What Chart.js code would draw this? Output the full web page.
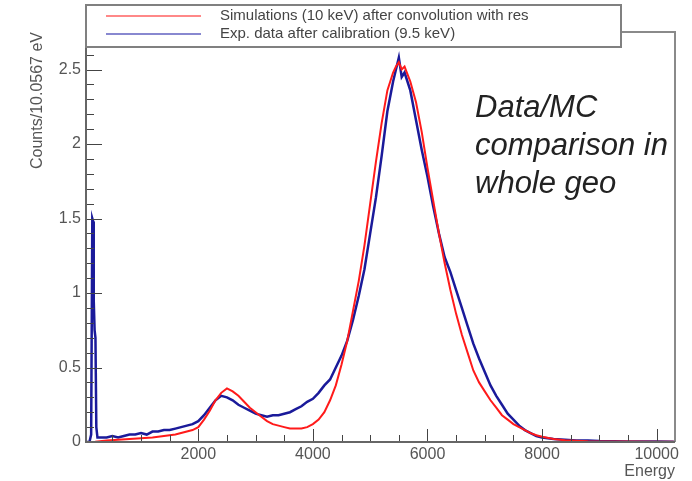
<!DOCTYPE html>
<html>
<head>
<meta charset="utf-8">
<script src="https://cdn.jsdelivr.net/npm/chart.js@4.4.1/dist/chart.umd.min.js"></script>
<style>
  html, body { margin: 0; padding: 0; background: #fff; }
  #wrap { position: relative; width: 692px; height: 481px; }
</style>
</head>
<body>
<div id="wrap"><canvas id="chart" width="692" height="481"></canvas></div>
<script>
// values (energy in eV, counts per bin)
const simEnergy = [0, 200, 400, 600, 800, 1000, 1200, 1400, 1600, 1800, 1900, 2000, 2100, 2200, 2300, 2400, 2500,
  2600, 2700, 2800, 2900, 3000, 3100, 3200, 3300, 3400, 3500, 3600, 3700, 3800, 3900, 4000, 4100, 4200, 4300,
  4400, 4500, 4600, 4700, 4800, 4900, 5000, 5100, 5200, 5300, 5400, 5450, 5500, 5550, 5600, 5700, 5800, 5900,
  6000, 6100, 6200, 6300, 6400, 6500, 6600, 6700, 6800, 6900, 7000, 7100, 7200, 7300, 7400, 7500, 7600, 7700,
  7800, 7900, 8000, 8200, 8400, 8600, 8800, 9000, 9500, 10000, 10300];
const simCounts = [0, 0.002, 0.01, 0.015, 0.02, 0.025, 0.03, 0.04, 0.05, 0.07, 0.08, 0.1, 0.15, 0.21, 0.28, 0.33, 0.36,
  0.34, 0.31, 0.27, 0.23, 0.2, 0.17, 0.14, 0.12, 0.11, 0.1, 0.09, 0.09, 0.09, 0.1, 0.12, 0.15, 0.2, 0.28,
  0.38, 0.52, 0.68, 0.88, 1.08, 1.32, 1.6, 1.88, 2.14, 2.36, 2.48, 2.52, 2.55, 2.5, 2.52, 2.42, 2.28, 2.08,
  1.84, 1.62, 1.4, 1.2, 1.02, 0.86, 0.72, 0.6, 0.48, 0.4, 0.34, 0.28, 0.23, 0.18, 0.15, 0.12, 0.1, 0.08,
  0.06, 0.045, 0.035, 0.02, 0.012, 0.008, 0.005, 0.004, 0.003, 0.002, 0.002];

const expEnergy = [0, 100, 130, 150, 165, 175, 190, 205, 220, 240, 300, 400, 500, 600, 700, 800, 900, 1000, 1100,
  1200, 1300, 1400, 1500, 1600, 1700, 1800, 1900, 2000, 2100, 2200, 2300, 2400, 2500, 2600, 2700, 2800, 2900,
  3000, 3100, 3200, 3300, 3400, 3500, 3600, 3700, 3800, 3900, 4000, 4100, 4200, 4300, 4400, 4500, 4600, 4700,
  4800, 4900, 5000, 5100, 5200, 5300, 5400, 5450, 5500, 5550, 5600, 5700, 5800, 5900, 6000, 6100, 6200, 6300,
  6400, 6500, 6600, 6700, 6800, 6900, 7000, 7100, 7200, 7300, 7400, 7500, 7600, 7700, 7800, 7900, 8000, 8200,
  8400, 8600, 8800, 9000, 9500, 10000, 10300];
const expCounts = [0, 0, 0.05, 1.5, 1.48, 0.95, 0.75, 0.7, 0.1, 0.03, 0.03, 0.03, 0.04, 0.03, 0.04, 0.05, 0.05, 0.06, 0.05,
  0.07, 0.07, 0.08, 0.08, 0.09, 0.1, 0.11, 0.12, 0.14, 0.18, 0.23, 0.28, 0.31, 0.3, 0.28, 0.25, 0.23, 0.21,
  0.19, 0.18, 0.17, 0.18, 0.18, 0.19, 0.2, 0.22, 0.24, 0.27, 0.29, 0.33, 0.38, 0.42, 0.5, 0.58, 0.68, 0.82,
  0.98, 1.16, 1.4, 1.64, 1.92, 2.22, 2.42, 2.5, 2.58, 2.45, 2.48, 2.36, 2.16, 1.96, 1.78, 1.58, 1.4, 1.24,
  1.14, 1.02, 0.9, 0.78, 0.66, 0.56, 0.47, 0.38, 0.31, 0.25, 0.19, 0.15, 0.11, 0.08, 0.06, 0.04, 0.03, 0.02,
  0.015, 0.01, 0.01, 0.006, 0.004, 0.003, 0.002];

const xTickValues = [2000, 4000, 6000, 8000, 10000];
const yTickValues = [0, 0.5, 1, 1.5, 2, 2.5];
const seriesLabels = ["Simulations (10 keV) after convolution with res", "Exp. data after calibration (9.5 keV)"];
const noteLines = ["Data/MC", "comparison in", "whole geo"];

const toPoints = (xs, ys) => xs.map((x, i) => ({ x, y: ys[i] }));

const FONT = "'Liberation Sans', Arial, sans-serif";

// ROOT style ticks pointing into the frame, plus the frame itself
const frameTicks = {
  id: "frameTicks",
  afterDatasetsDraw(chart) {
    const { ctx, chartArea: a, scales } = chart;
    const xs = scales.x, ys = scales.y;
    ctx.save();
    ctx.strokeStyle = "#444";
    ctx.lineWidth = 1;
    for (let e = 500; e <= 10000; e += 500) {
      const px = Math.round(xs.getPixelForValue(e)) + 0.5;
      const len = e % 2000 === 0 ? 13 : 7;
      ctx.beginPath(); ctx.moveTo(px, a.bottom); ctx.lineTo(px, a.bottom - len); ctx.stroke();
    }
    for (let k = 1; k <= 27; k++) {
      const v = k / 10;
      const py = Math.round(ys.getPixelForValue(v)) + 0.5;
      const len = k % 5 === 0 ? 16 : 8;
      ctx.beginPath(); ctx.moveTo(a.left, py); ctx.lineTo(a.left + len, py); ctx.stroke();
    }
    // frame
    ctx.strokeStyle = "#8a8a8a";
    ctx.lineWidth = 2;
    ctx.beginPath();
    ctx.moveTo(a.left, a.top); ctx.lineTo(a.right, a.top); ctx.lineTo(a.right, a.bottom);
    ctx.stroke();
    ctx.strokeStyle = "#666";
    ctx.beginPath();
    ctx.moveTo(a.left, a.top); ctx.lineTo(a.left, a.bottom); ctx.lineTo(a.right, a.bottom);
    ctx.stroke();
    ctx.restore();
  },
  afterDraw(chart) {
    const { ctx } = chart;
    ctx.save();
    // legend box
    const bx = 86, by = 5, bw = 535, bh = 42;
    ctx.fillStyle = "#fff";
    ctx.fillRect(bx, by, bw, bh);
    ctx.strokeStyle = "#808080";
    ctx.lineWidth = 2;
    ctx.strokeRect(bx, by, bw, bh);
    ctx.font = "15px " + FONT;
    ctx.textBaseline = "middle";
    chart.data.datasets.forEach((ds, i) => {
      const ly = 16 + i * 18;
      ctx.strokeStyle = ds.legendColor;
      ctx.lineWidth = 1.5;
      ctx.beginPath(); ctx.moveTo(106, ly); ctx.lineTo(201, ly); ctx.stroke();
      ctx.fillStyle = "#444";
      ctx.fillText(ds.label, 220, ly);
    });
    // annotation
    ctx.fillStyle = "#222";
    ctx.font = "italic 31px " + FONT;
    ctx.textBaseline = "alphabetic";
    noteLines.forEach((t, i) => ctx.fillText(t, 475, 117 + i * 38));
    ctx.restore();
  },
};

new Chart(document.getElementById("chart"), {
  type: "line",
  data: {
    datasets: [
      {
        label: seriesLabels[0],
        data: toPoints(simEnergy, simCounts),
        borderColor: "#ff1a1a",
        legendColor: "#ff6060",
        borderWidth: 2,
        pointRadius: 0,
        tension: 0,
      },
      {
        label: seriesLabels[1],
        data: toPoints(expEnergy, expCounts),
        borderColor: "#1a1a9a",
        legendColor: "#6060c0",
        borderWidth: 2.5,
        pointRadius: 0,
        tension: 0,
      },
    ],
  },
  options: {
    responsive: false,
    animation: false,
    layout: { padding: { top: 32, right: 17, left: 0, bottom: 0 } },
    plugins: { legend: { display: false }, tooltip: { enabled: false } },
    scales: {
      x: {
        type: "linear",
        min: 40,
        max: 10320,
        afterFit: (s) => { s.height = 39; },
        afterBuildTicks: (s) => { s.ticks = xTickValues.map((v) => ({ value: v })); },
        grid: { display: false, drawTicks: false },
        border: { display: false },
        ticks: {
          color: "#555", font: { family: FONT, size: 16 }, padding: 3, maxRotation: 0,
          callback: (v) => String(v),
        },
        title: {
          display: true, text: "Energy", align: "end", color: "#555",
          font: { family: FONT, size: 16 }, padding: { top: 0, bottom: 0 },
        },
      },
      y: {
        min: 0,
        max: 2.752,
        afterFit: (s) => { s.width = 86; },
        afterBuildTicks: (s) => { s.ticks = yTickValues.map((v) => ({ value: v })); },
        grid: { display: false, drawTicks: false },
        border: { display: false },
        ticks: {
          color: "#555", font: { family: FONT, size: 16 }, padding: 5,
          callback: (v) => String(v),
        },
        title: {
          display: true, text: "Counts/10.0567 eV", align: "end", color: "#555",
          font: { family: FONT, size: 16 }, padding: { top: 28, bottom: 0 },
        },
      },
    },
  },
  plugins: [frameTicks],
});
</script>
</body>
</html>
